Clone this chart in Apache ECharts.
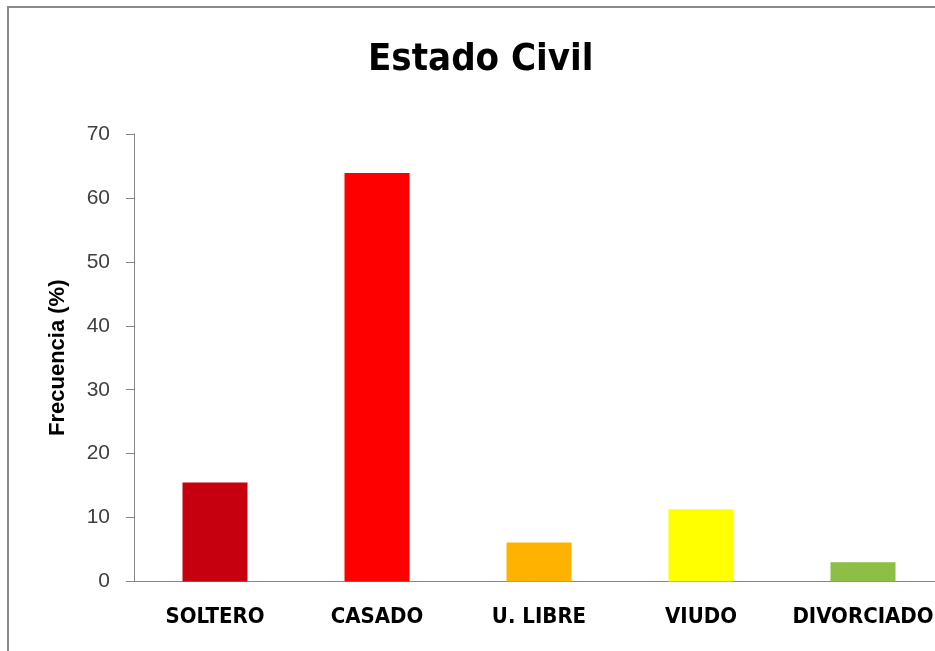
<!DOCTYPE html>
<html>
<head>
<meta charset="utf-8">
<script src="https://cdn.jsdelivr.net/npm/echarts@6/dist/echarts.min.js"></script>
<style>
  html, body { margin: 0; padding: 0; background: #ffffff; }
  #chart { width: 935px; height: 651px; }
</style>
</head>
<body>
<div id="chart"></div>
<script>
// Estado civil: frecuencia (%) por categoría
const categories = ['SOLTERO', 'CASADO', 'U. LIBRE', 'VIUDO', 'DIVORCIADO'];
const frecuencia = [15.5, 63.9, 6.1, 11.3, 3.0];
const barColors = ['#C6000E', '#FF0000', '#FFB300', '#FFFF00', '#8DBE45'];
const yTicks = { min: 0, max: 70, interval: 10 };

const condensed = '"DejaVu Sans Condensed", "Liberation Sans Narrow", "Liberation Sans", sans-serif';

const chart = echarts.init(document.getElementById('chart'), null, { renderer: 'canvas' });

chart.setOption({
  animation: false,
  backgroundColor: '#ffffff',
  title: {
    text: 'Estado Civil',
    left: 363,
    top: 36,
    textStyle: {
      fontFamily: condensed,
      fontWeight: 'bold',
      fontSize: 38,
      color: '#000000'
    }
  },
  graphic: [{
    type: 'rect',
    silent: true,
    z: -1,
    shape: { x: 8, y: 7, width: 1000, height: 1000 },
    style: { fill: 'none', stroke: '#8a8a8a', lineWidth: 2 }
  }],
  grid: {
    left: 134,
    top: 134,
    width: 810,
    height: 447.5,
    containLabel: false,
    outerBoundsMode: 'none'
  },
  xAxis: {
    type: 'category',
    data: categories,
    axisLine: { show: true, lineStyle: { color: '#868686', width: 1 } },
    axisTick: { show: false },
    axisLabel: {
      interval: 0,
      margin: 25,
      color: '#000000',
      fontFamily: condensed,
      fontWeight: 'bold',
      fontSize: 22
    }
  },
  yAxis: {
    type: 'value',
    min: yTicks.min,
    max: yTicks.max,
    interval: yTicks.interval,
    name: 'Frecuencia (%)',
    nameLocation: 'middle',
    nameRotate: 90,
    nameGap: 65,
    nameTextStyle: {
      fontFamily: '"Liberation Sans", sans-serif',
      fontWeight: 'bold',
      fontSize: 22,
      color: '#000000'
    },
    axisLine: { show: true, lineStyle: { color: '#868686', width: 1 } },
    axisTick: { show: true, inside: false, length: 8, lineStyle: { color: '#868686' } },
    splitLine: { show: false },
    axisLabel: {
      margin: 24,
      color: '#404040',
      fontFamily: '"Liberation Sans", sans-serif',
      fontSize: 21
    }
  },
  series: [{
    type: 'bar',
    data: frecuencia.map((v, i) => ({ value: v, itemStyle: { color: barColors[i] } })),
    barWidth: 65
  }]
});
</script>
</body>
</html>
